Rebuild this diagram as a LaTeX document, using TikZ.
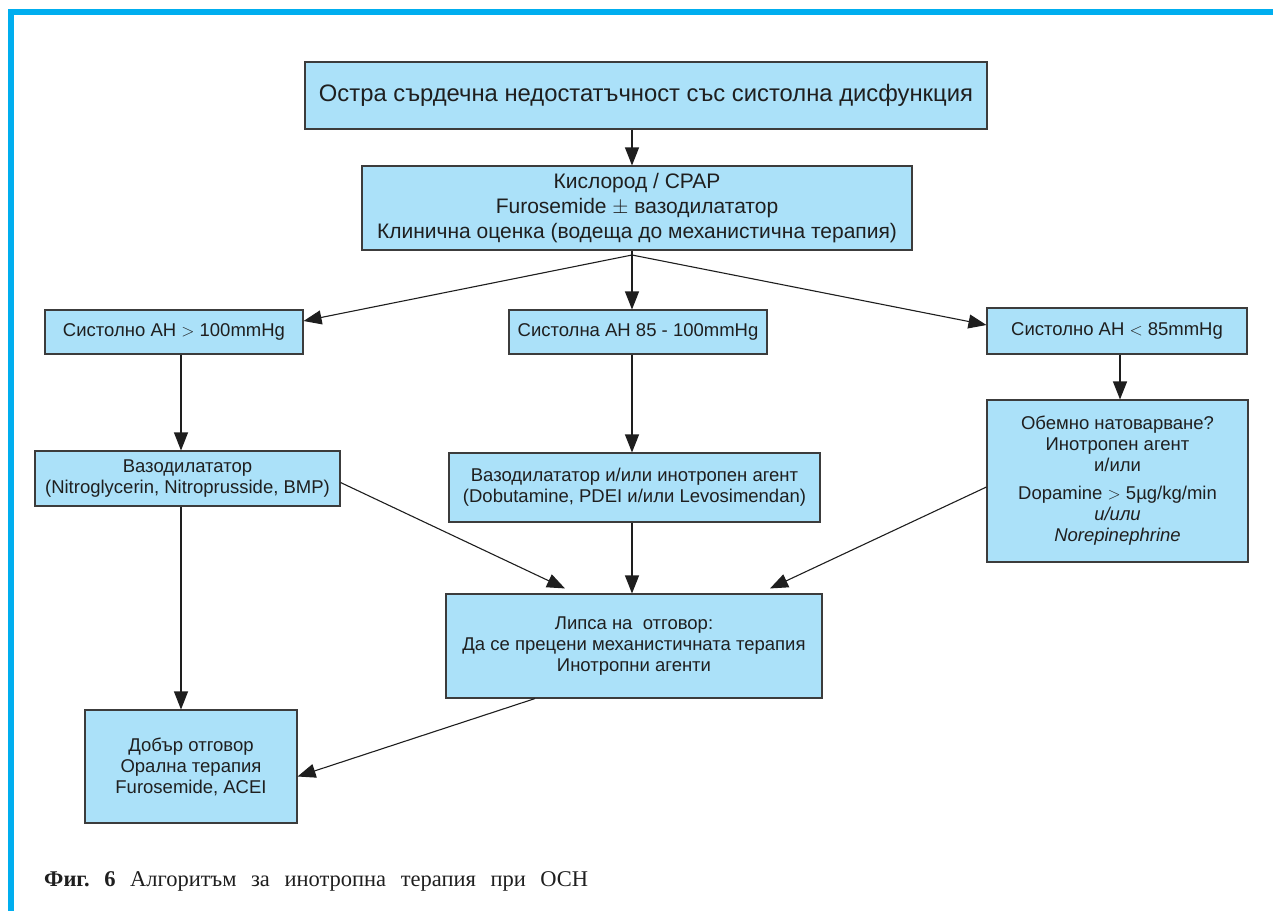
\documentclass[tikz,border=0pt]{standalone}
\usepackage{fontspec}
\setmainfont{Liberation Sans}
\newfontfamily\capfont{Liberation Serif}
\usetikzlibrary{arrows.meta,calc}
\definecolor{boxfill}{RGB}{171,225,249}
\definecolor{boxline}{RGB}{60,60,60}
\definecolor{frameblue}{RGB}{0,174,239}
\definecolor{arrowcol}{RGB}{30,30,30}
\tikzset{
  box/.style={draw=boxline, fill=boxfill, line width=1.1pt, align=center, inner sep=0pt,
    font=\fontsize{18.5}{21}\selectfont, text=black!88},
  arr/.style={draw=arrowcol, line width=1.1pt, -{Triangle[length=18pt,width=14pt]}},
  ln/.style={draw=arrowcol, line width=1.1pt},
}
\begin{document}
\begin{tikzpicture}[x=1pt,y=-1pt]
\useasboundingbox (0,0) rectangle (1273,911);
% frame
\fill[frameblue] (8,9) rectangle (1273,15);
\fill[frameblue] (8,9) rectangle (14,911);
% nodes
\node[box, minimum width=682pt, minimum height=67pt, font=\fontsize{23.8}{28}\selectfont] (top) at (646,95.5)
  {Остра сърдечна недостатъчност със систолна дисфункция};
\node[box, minimum width=550pt, minimum height=84pt, font=\fontsize{21}{25}\selectfont] (sec) at (637,208)
  {Кислород / CPAP\\ Furosemide $\pm$ вазодилататор\\ Клинична оценка (водеща до механистична терапия)};
\node[box, minimum width=258pt, minimum height=44pt] (L) at (174,332) {Систолно АН $>$ 100mmHg};
\node[box, minimum width=258pt, minimum height=44pt] (M) at (638,332) {Систолна АН 85 - 100mmHg};
\node[box, minimum width=260pt, minimum height=46pt] (R) at (1117,331) {Систолно АН $<$ 85mmHg};
\node[box, minimum width=305pt, minimum height=55pt] (L2) at (187.5,478.5)
  {Вазодилататор\\ (Nitroglycerin, Nitroprusside, BMP)};
\node[box, minimum width=371pt, minimum height=69pt] (M2) at (634.5,487.5)
  {Вазодилататор и/или инотропен агент\\ (Dobutamine, PDEI и/или Levosimendan)};
\node[box, minimum width=261pt, minimum height=162pt] (R2) at (1117.5,481)
  {Обемно натоварване?\\ Инотропен агент\\ и/или\\[7pt] Dopamine $>$ 5µg/kg/min\\ \textit{и/или}\\ \textit{Norepinephrine}};
\node[box, minimum width=376pt, minimum height=104pt] (C) at (634,646)
  {Липса на \ отговор:\\ Да се прецени механистичната терапия\\ Инотропни агенти};
\node[box, minimum width=212pt, minimum height=113pt] (BL) at (191,766.5)
  {Добър отговор\\ Орална терапия\\ Furosemide, ACEI};
\coordinate (fork) at (632,255);
% connectors
\draw[arr] (top.south -| fork) -- (sec.north -| fork);
\draw[ln] (sec.south -| fork) -- (fork);
\draw[arr] (fork) -- ([yshift=11pt]L.east);
\draw[arr] (fork) -- (M.north -| fork);
\draw[arr] (fork) -- ([yshift=6pt]R.west);
\draw[arr] (L.south -| 181,0) -- (L2.north -| 181,0);
\draw[arr] (M.south -| fork) -- (M2.north -| fork);
\draw[arr] (R.south -| 1120,0) -- (R2.north -| 1120,0);
\draw[arr] ([yshift=-4pt]L2.east) -- ($(C.north -| 565,0)+(0,-5)$);
\draw[arr] (M2.south -| fork) -- (C.north -| fork);
\draw[arr] ([yshift=-6pt]R2.west) -- ($(C.north -| 770,0)+(0,-5)$);
\draw[arr] (L2.south -| 181,0) -- (BL.north -| 181,0);
\draw[arr] (C.south -| 535,0) -- ([yshift=-10pt]BL.east);
% caption
\node[anchor=base west, inner sep=0pt, font=\capfont\fontsize{22.5}{26}\selectfont, text=black!88] (cap) at (44,886)
  {\frenchspacing\makebox[544pt][s]{\textbf{Фиг. 6} Алгоритъм за инотропна терапия при ОСН}};
\end{tikzpicture}
\end{document}
